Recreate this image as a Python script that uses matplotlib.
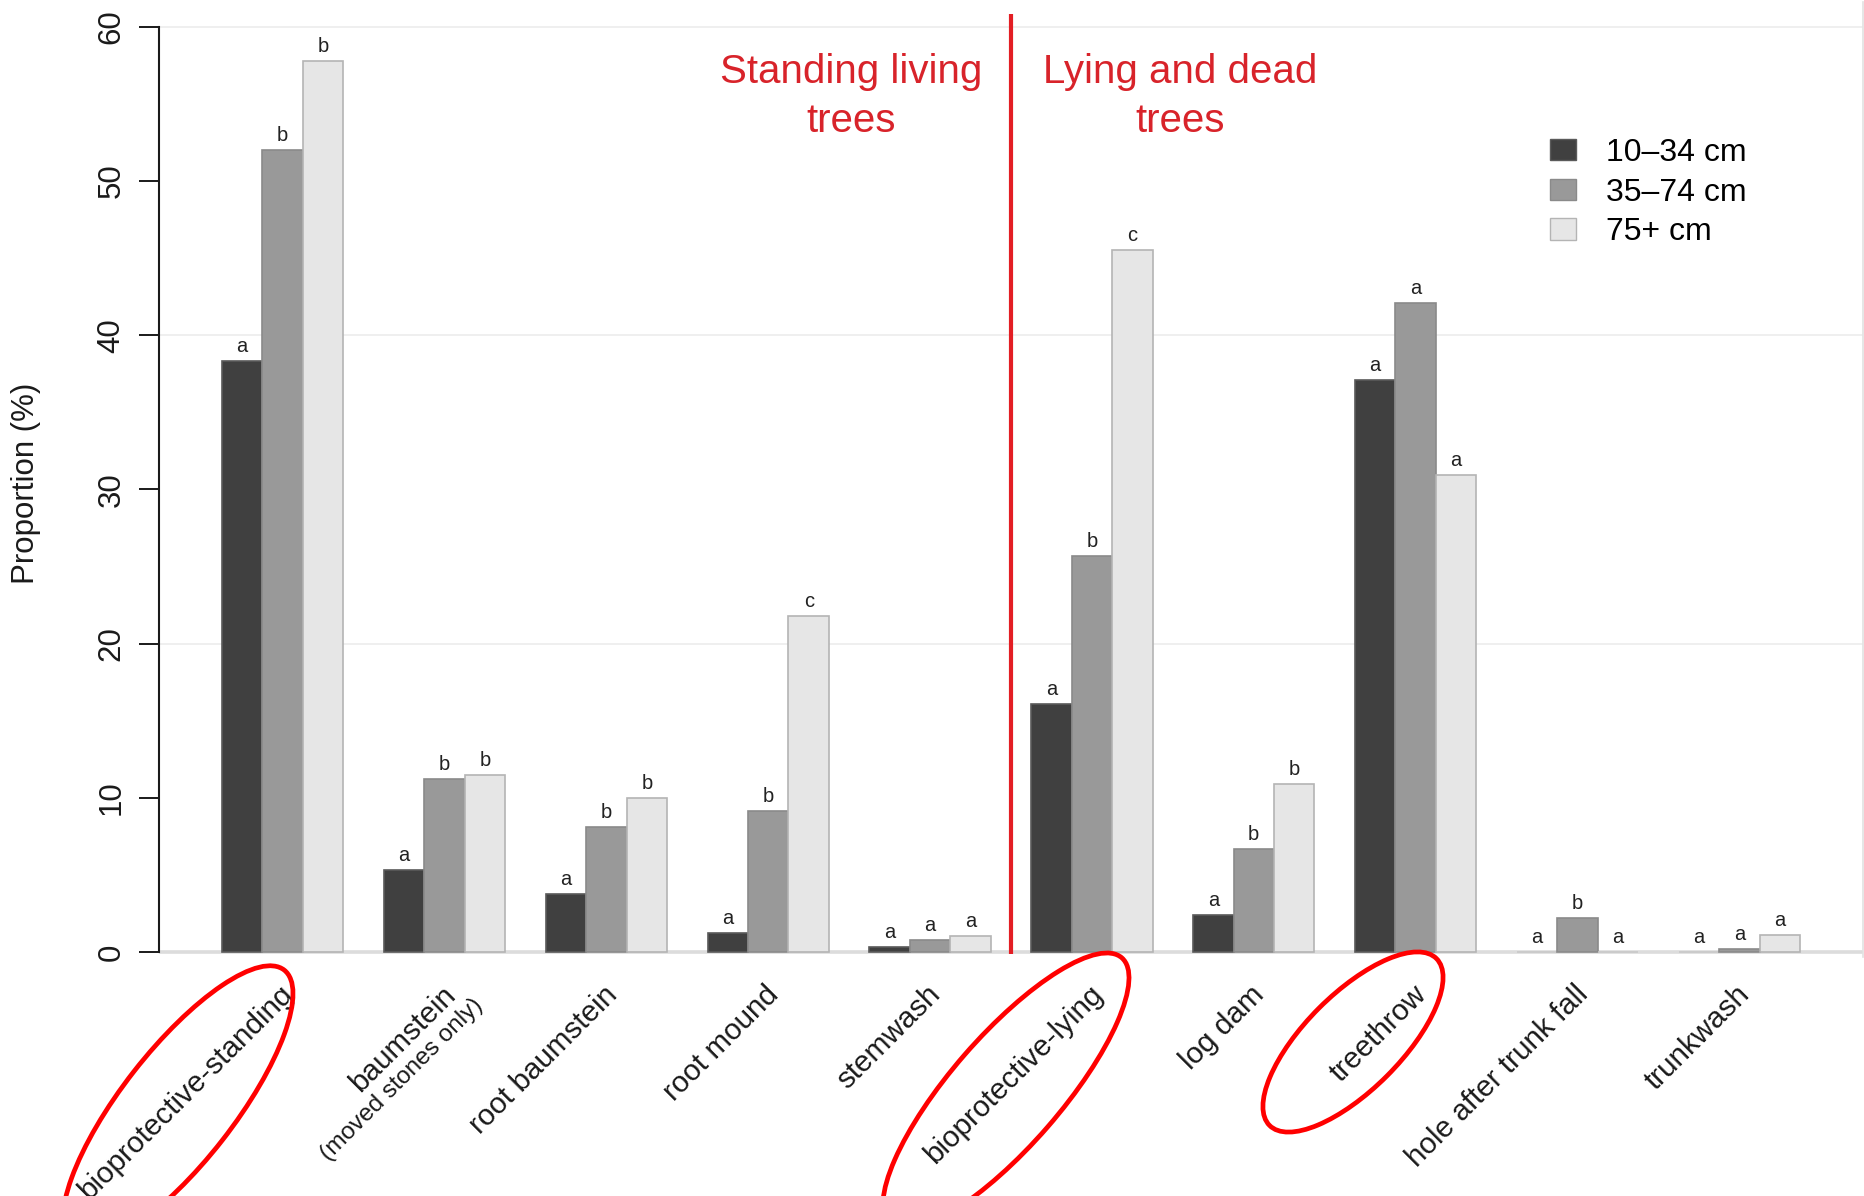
import matplotlib
matplotlib.use("Agg")
import matplotlib.pyplot as plt
import numpy as np
from matplotlib.patches import Ellipse, Patch

plt.rcParams["font.family"] = ["Liberation Sans", "DejaVu Sans"]

# ---- data -------------------------------------------------------------
categories = ["bioprotective-standing", "baumstein", "root baumstein", "root mound",
              "stemwash", "bioprotective-lying", "log dam", "treethrow",
              "hole after trunk fall", "trunkwash"]
sub_labels = {1: "(moved stones only)"}
size_classes = ["10\u201334 cm", "35\u201374 cm", "75+ cm"]

small = [38.3, 5.3, 3.75, 1.2, 0.3, 16.1, 2.4, 37.1, 0.0, 0.0]
medium = [52.0, 11.2, 8.1, 9.15, 0.8, 25.7, 6.7, 42.1, 2.2, 0.2]
large = [57.8, 11.5, 10.0, 21.8, 1.05, 45.5, 10.9, 30.9, 0.0, 1.1]

letters_small = ["a", "a", "a", "a", "a", "a", "a", "a", "a", "a"]
letters_medium = ["b", "b", "b", "b", "a", "b", "b", "a", "b", "a"]
letters_large = ["b", "b", "b", "c", "a", "c", "b", "a", "a", "a"]

yticks = [0, 10, 20, 30, 40, 50, 60]
group_titles = ["Standing living\ntrees", "Lying and dead\ntrees"]

# ---- styling ----------------------------------------------------------
fills = ["#404040", "#999999", "#e6e6e6"]
edges = ["#5a5a5a", "#8a8a8a", "#b4b4b4"]
empty_edge = "#c8c8c8"
red_text = "#d8232a"
red_line = "#e31e24"
red_ring = "#ff0000"

W, H = 1864, 1196
fig = plt.figure(figsize=(W / 100, H / 100), dpi=100)
ax = fig.add_axes([158.9 / W, 1 - 956.6 / H, (1863.1 - 158.9) / W, (956.6 - 2.1) / H])
ax.set_xlim(-0.56, 41.56)
ax.set_ylim(-0.3, 61.6)

# faint reference lines
for yv in (20, 40, 60):
    ax.axhline(yv, color="#eeeeee", lw=1.3, zorder=0)
ax.axhline(0, color="#dcdcdc", lw=2.6, zorder=0.5)

# grouped bars: three diameter classes side by side, one bar gap between groups
starts = 1 + 4 * np.arange(len(categories))
series = [small, medium, large]
letter_sets = [letters_small, letters_medium, letters_large]
for k, (vals, lets) in enumerate(zip(series, letter_sets)):
    ec = [edges[k] if v > 0 else empty_edge for v in vals]
    ax.bar(starts + k, vals, width=1.0, align="edge", color=fills[k],
           edgecolor=ec, linewidth=1.2, zorder=2)
    for x0, v, t in zip(starts + k + 0.5, vals, lets):
        ax.annotate(t, xy=(x0, v), xytext=(0, 6.5), textcoords="offset points",
                    ha="center", va="baseline", fontsize=14.5, color="#222222",
                    zorder=3)

# category labels beneath the axis
for i, cat in enumerate(categories):
    cx = starts[i] + 1.5
    ax.annotate(cat, xy=(cx, 0), xytext=(4.5, -27.5), textcoords="offset points",
                rotation=45, rotation_mode="anchor", ha="right", va="center",
                fontsize=21.3, color="#1a1a1a", annotation_clip=False)
    if i in sub_labels:
        ax.annotate(sub_labels[i], xy=(cx, 0), xytext=(25.0, -36.0),
                    textcoords="offset points", rotation=45, rotation_mode="anchor",
                    ha="right", va="center", fontsize=17.6, color="#1a1a1a",
                    annotation_clip=False)

# divider between living and dead tree groups
x_div = (starts[4] + 3 + starts[5]) / 2
ax.plot([x_div, x_div], [-0.1, 60.8], color=red_line, lw=3, zorder=4,
        solid_capstyle="butt")
ax.text(16.55, 55.5, group_titles[0], color=red_text, fontsize=29,
        ha="center", va="center", multialignment="center", linespacing=1.37)
ax.text(24.68, 55.5, group_titles[1], color=red_text, fontsize=29,
        ha="center", va="center", multialignment="center", linespacing=1.37)

# axes styling
ax.set_xticks([])
ax.set_yticks(yticks)
ax.set_yticklabels([str(t) for t in yticks])
ax.tick_params(axis="y", length=14.4, width=1.4, pad=9, labelsize=22.5,
               labelrotation=90, colors="#1a1a1a")
for lab in ax.get_yticklabels():
    lab.set_va("center")
ax.spines["left"].set_bounds(0, 60)
ax.spines["left"].set_linewidth(1.5)
ax.spines["left"].set_color("#1a1a1a")
ax.spines["bottom"].set_visible(False)
ax.spines["top"].set_visible(False)
ax.spines["right"].set_color("#e2e2e2")
ax.spines["right"].set_linewidth(1.2)

fig.text(26 / W, 1 - 483 / H, "Proportion (%)", rotation=90, ha="center",
         va="center", fontsize=22.5, color="#1a1a1a")

# legend
handles = [Patch(facecolor=fills[k], edgecolor=edges[k], linewidth=1.0)
           for k in range(3)]
fig.legend(handles, size_classes, loc="upper left",
           bbox_to_anchor=(1550 / W, 1 - 138 / H), frameon=False, fontsize=23,
           handlelength=0.8, handleheight=0.65, handletextpad=0.95,
           labelspacing=0.3, borderpad=0, borderaxespad=0)

# highlight rings around selected categories (figure pixel space)
rings = [((178, 1106), 345, 112, 52), ((1006, 1091), 353, 110, 49),
         ((1353, 1042), 236, 96, 45)]
for (cx, cy), w, h, ang in rings:
    e = Ellipse((cx / 100, (H - cy) / 100), w / 100, h / 100, angle=ang,
                transform=fig.dpi_scale_trans, fill=False, edgecolor=red_ring,
                lw=3.4, zorder=10)
    fig.add_artist(e)

fig.savefig("out.png", dpi=100)
